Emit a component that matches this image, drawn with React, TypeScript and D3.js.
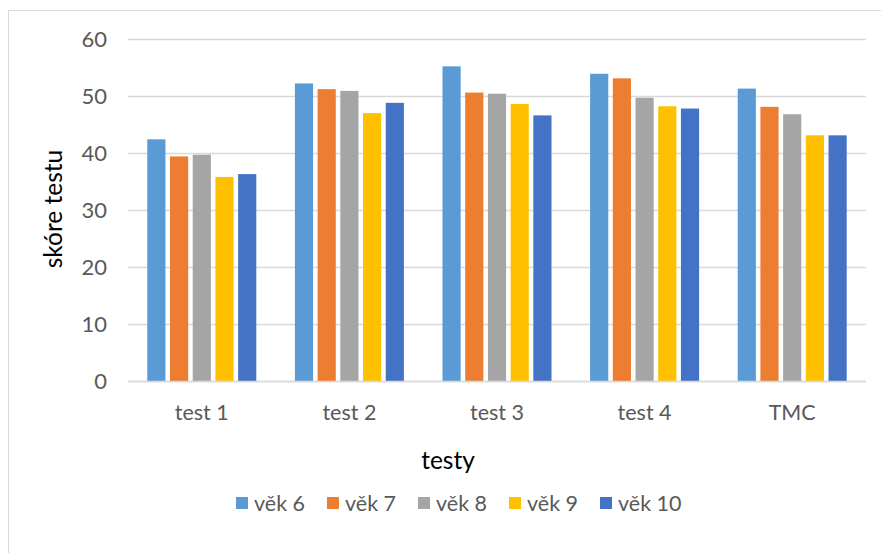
import React from 'react';
import * as d3 from 'd3';

const categories = ['test 1', 'test 2', 'test 3', 'test 4', 'TMC'];
const seriesNames = ['věk 6', 'věk 7', 'věk 8', 'věk 9', 'věk 10'];
const colors = ['#5b9bd5', '#ed7d31', '#a5a5a5', '#ffc000', '#4472c4'];

const vek6 = [42.4, 52.2, 55.2, 53.9, 51.3];
const vek7 = [39.4, 51.2, 50.6, 53.1, 48.1];
const vek8 = [39.7, 50.9, 50.4, 49.7, 46.8];
const vek9 = [35.8, 47.0, 48.6, 48.2, 43.1];
const vek10 = [36.3, 48.8, 46.6, 47.8, 43.1];
const values = [vek6, vek7, vek8, vek9, vek10];

const yTicks = [0, 10, 20, 30, 40, 50, 60];

const width = 881;
const height = 553;
const font = 'Lato, "Open Sans", sans-serif';

export default function App() {
  const x0 = d3.scaleBand<string>().domain(categories).range([128, 866]);
  const x1 = d3
    .scaleBand<string>()
    .domain(seriesNames)
    .range([0, x0.bandwidth()])
    .paddingInner(0.2)
    .paddingOuter(0.85);
  const y = d3.scaleLinear().domain([0, 60]).range([381, 39]);

  return (
    <svg
      width={width}
      height={height}
      style={{ position: 'absolute', left: 0, top: 0, background: '#fff' }}
      fontFamily={font}
    >
      {/* chart frame */}
      <line x1={8.5} x2={8.5} y1={10} y2={height} stroke="#d9d9d9" />
      <line x1={8} x2={width} y1={10.5} y2={10.5} stroke="#d9d9d9" />

      {/* gridlines + y ticks */}
      {yTicks.map((t) => (
        <g key={t}>
          <line
            x1={128}
            x2={866}
            y1={Math.round(y(t)) + 0.5}
            y2={Math.round(y(t)) + 0.5}
            stroke="#d9d9d9"
            strokeWidth={1.5}
          />
          <text
            x={107}
            y={y(t)}
            dy="0.35em"
            textAnchor="end"
            fontSize={22}
            fill="#595959"
          >
            {t}
          </text>
        </g>
      ))}

      {/* bars */}
      {categories.map((c, ci) => (
        <g key={c} transform={`translate(${x0(c)},0)`}>
          {seriesNames.map((s, si) => (
            <rect
              key={s}
              x={x1(s)}
              y={y(values[si][ci])}
              width={x1.bandwidth()}
              height={y(0) - y(values[si][ci])}
              fill={colors[si]}
            />
          ))}
        </g>
      ))}

      {/* x axis line */}
      <line x1={128} x2={866} y1={381.5} y2={381.5} stroke="#d9d9d9" strokeWidth={1.5} />

      {/* category labels */}
      {categories.map((c) => (
        <text
          key={c}
          x={(x0(c) ?? 0) + x0.bandwidth() / 2}
          y={420}
          textAnchor="middle"
          fontSize={21.5}
          fill="#595959"
        >
          {c}
        </text>
      ))}

      {/* axis titles */}
      <text x={448} y={469} textAnchor="middle" fontSize={24.5} fill="#000">
        testy
      </text>
      <text
        transform={`translate(62,209) rotate(-90)`}
        textAnchor="middle"
        fontSize={24.5}
        fill="#000"
      >
        skóre testu
      </text>

      {/* legend */}
      {seriesNames.map((s, i) => {
        const lx = 236 + i * 91;
        return (
          <g key={s}>
            <rect x={lx} y={497} width={12} height={12} fill={colors[i]} />
            <text x={lx + 18} y={503} dy="0.35em" fontSize={21.5} fill="#595959">
              {s}
            </text>
          </g>
        );
      })}
    </svg>
  );
}
